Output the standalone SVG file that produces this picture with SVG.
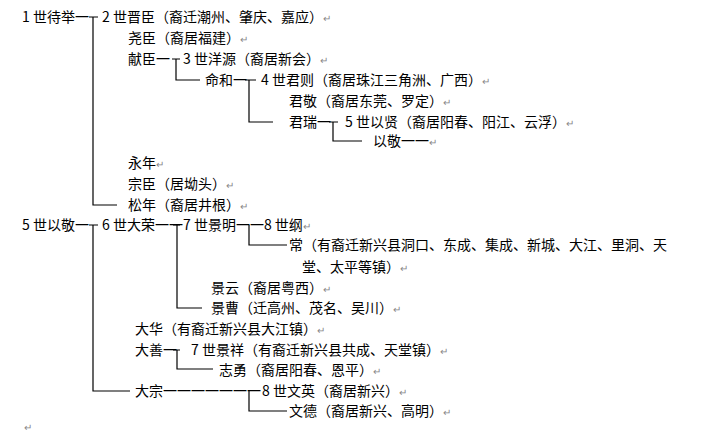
<svg xmlns="http://www.w3.org/2000/svg" width="715" height="434" viewBox="0 0 715 434">
<style>
text{font-family:"Noto Sans CJK SC","Liberation Serif",serif;font-size:14px;fill:#000}
.r{fill:#888;font-size:10px}
.c path{fill:none;stroke:#000;stroke-width:1.2}
</style>
<rect width="715" height="434" fill="#fff"/>
<g class="c" id="connectors">
<path d="M89 17H98M93 17V205H117"/>
<path d="M172 59H180M176 59V80H200"/>
<path d="M245 80H256M249 80V122H273"/>
<path d="M329 122H338M333 122V141H362"/>
<path d="M89 225H98M93 225V391H130"/>
<path d="M173 225H180M177 225V308H202"/>
<path d="M249 225V245H287"/>
<path d="M173 350H180M177 350V369H213"/>
<path d="M249 391V411H287"/>
</g>
<g id="n1"><text x="22" y="22">1 世待举一</text></g>
<g id="n2"><text x="102" y="22">2 世晋臣（裔迁潮州、肇庆、嘉应）<tspan class="r">↵</tspan></text></g>
<g id="n3"><text x="128" y="43">尧臣（裔居福建）<tspan class="r">↵</tspan></text></g>
<g id="n4"><text x="128" y="64">献臣一</text></g>
<g id="n5"><text x="183" y="64">3 世洋源（裔居新会）<tspan class="r">↵</tspan></text></g>
<g id="n6"><text x="205" y="85">命和一</text></g>
<g id="n7"><text x="261" y="85">4 世君则（裔居珠江三角洲、广西）<tspan class="r">↵</tspan></text></g>
<g id="n8"><text x="289" y="106">君敬（裔居东莞、罗定）<tspan class="r">↵</tspan></text></g>
<g id="n9"><text x="289" y="127">君瑞一</text></g>
<g id="n10"><text x="345" y="127">5 世以贤（裔居阳春、阳江、云浮）<tspan class="r">↵</tspan></text></g>
<g id="n11"><text x="373" y="146">以敬一一<tspan class="r">↵</tspan></text></g>
<g id="n12"><text x="128" y="168">永年<tspan class="r">↵</tspan></text></g>
<g id="n13"><text x="128" y="189">宗臣（居坳头）<tspan class="r">↵</tspan></text></g>
<g id="n14"><text x="128" y="210">松年（裔居井根）<tspan class="r">↵</tspan></text></g>
<g id="n15"><text x="22" y="230">5 世以敬一</text></g>
<g id="n16"><text x="102" y="230">6 世大荣一一</text></g>
<g id="n17"><text x="183" y="230">7 世景明一一8 世纲<tspan class="r">↵</tspan></text></g>
<g id="n18"><text x="289" y="250">常（有裔迁新兴县洞口、东成、集成、新城、大江、里洞、天</text><text x="302" y="272">堂、太平等镇）<tspan class="r">↵</tspan></text></g>
<g id="n19"><text x="211" y="293">景云（裔居粤西）<tspan class="r">↵</tspan></text></g>
<g id="n20"><text x="211" y="313">景曹（迁高州、茂名、吴川）<tspan class="r">↵</tspan></text></g>
<g id="n21"><text x="135" y="334">大华（有裔迁新兴县大江镇）<tspan class="r">↵</tspan></text></g>
<g id="n22"><text x="135" y="355">大善一</text></g>
<g id="n23"><text x="191" y="355">7 世景祥（有裔迁新兴县共成、天堂镇）<tspan class="r">↵</tspan></text></g>
<g id="n24"><text x="219" y="375">志勇（裔居阳春、恩平）<tspan class="r">↵</tspan></text></g>
<g id="n25"><text x="135" y="396">大宗一一一一一一一</text></g>
<g id="n26"><text x="262" y="396">8 世文英（裔居新兴）<tspan class="r">↵</tspan></text></g>
<g id="n27"><text x="289" y="416">文德（裔居新兴、高明）<tspan class="r">↵</tspan></text></g>
<text class="r" x="24" y="431">↵</text>
</svg>
